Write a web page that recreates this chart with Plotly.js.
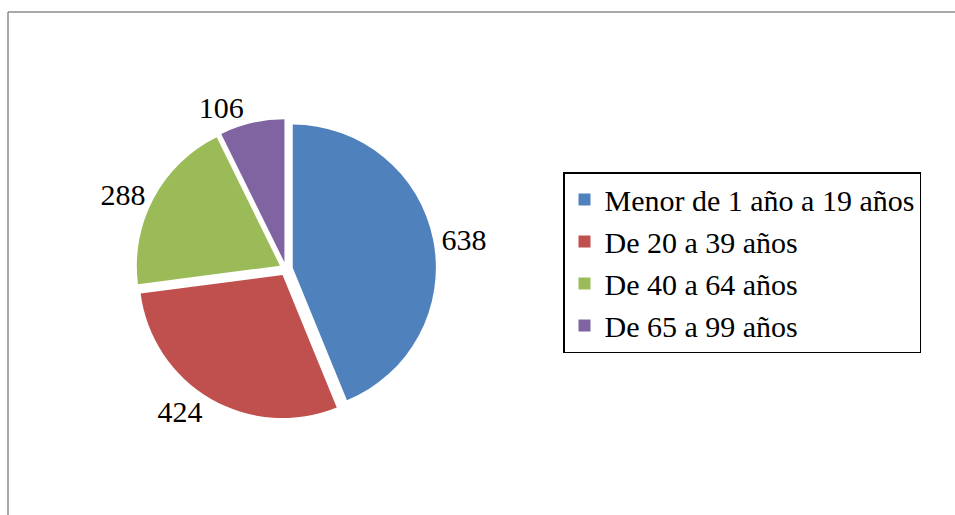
<!DOCTYPE html>
<html>
<head>
<meta charset="utf-8">
<script src="https://cdn.plot.ly/plotly-3.0.1.min.js"></script>
<style>
html,body{margin:0;padding:0;background:#fff;}
#chart{width:955px;height:515px;}
</style>
</head>
<body>
<div id="chart"></div>
<script>
const categories = ["Menor de 1 año a 19 años", "De 20 a 39 años", "De 40 a 64 años", "De 65 a 99 años"];
const values = [638, 424, 288, 106];
const colors = ["#4F81BD", "#C0504D", "#9BBB59", "#8064A2"];

const W = 955, H = 515;
const serif = "Liberation Serif";
const trace = {
  type: "pie",
  labels: categories,
  values: values,
  sort: false,
  direction: "clockwise",
  rotation: 0,
  pull: 0.048,
  marker: {colors: colors, line: {width: 0}},
  textinfo: "value",
  texttemplate: "%{value}",
  textposition: "outside",
  textfont: {family: serif, size: 30, color: "#000"},
  outsidetextfont: {family: serif, size: 30, color: "#000"},
  hoverinfo: "none",
  domain: {x: [136 / W, 436 / W], y: [96 / H, 396 / H]}
};

const layout = {
  width: W,
  height: H,
  margin: {l: 0, r: 0, t: 0, b: 0},
  paper_bgcolor: "#fff",
  font: {family: serif, size: 30, color: "#000"},
  showlegend: true,
  legend: {
    x: 563 / W, y: 1 - 262.5 / H, xanchor: "left", yanchor: "middle",
    bordercolor: "#000", borderwidth: 1.5, bgcolor: "#fff",
    font: {family: serif, size: 30, color: "#000"}
  },
  shapes: [
    {type: "line", xref: "paper", yref: "paper", x0: 8 / W, x1: 1.01, y0: 1 - 12 / H, y1: 1 - 12 / H, line: {color: "#8c8c8c", width: 1.5}},
    {type: "line", xref: "paper", yref: "paper", x0: 8 / W, x1: 8 / W, y0: 1 - 12 / H, y1: -0.01, line: {color: "#8c8c8c", width: 1.5}}
  ]
};

Plotly.newPlot("chart", [trace], layout, {staticPlot: true, displayModeBar: false});
</script>
</body>
</html>
